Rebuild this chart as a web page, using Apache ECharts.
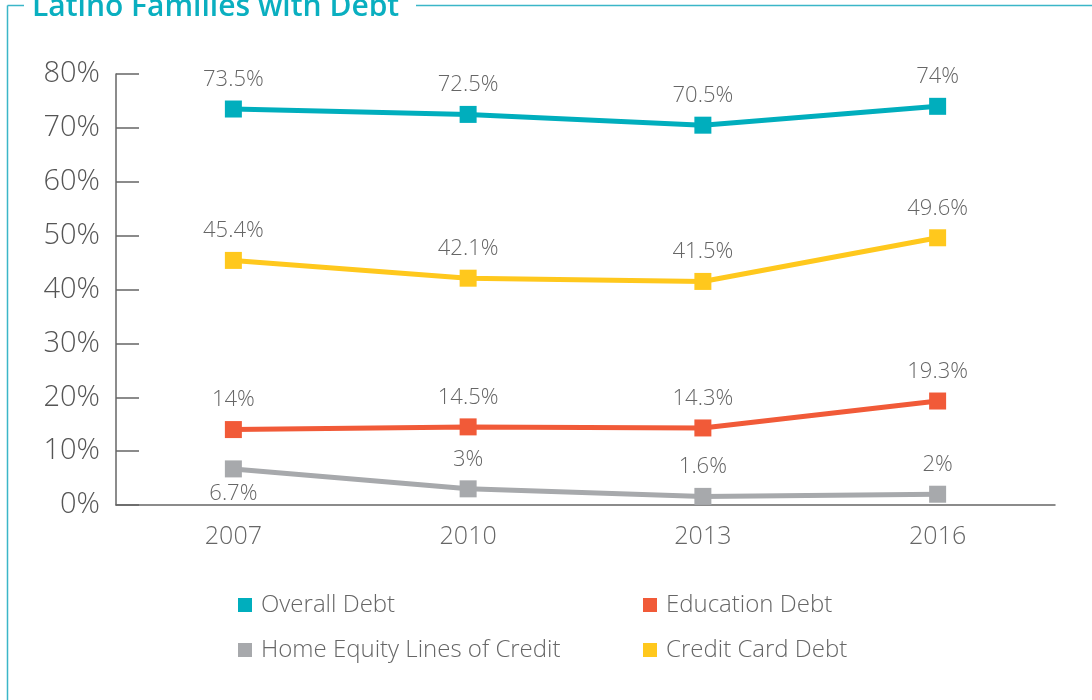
<!DOCTYPE html>
<html>
<head>
<meta charset="utf-8">
<script src="https://cdn.jsdelivr.net/npm/echarts@6/dist/echarts.min.js"></script>
<style>html,body{margin:0;padding:0;background:#fff}#c{width:1092px;height:700px}</style>
</head>
<body>
<div id="c"></div>
<script>
const categories = ['2007', '2010', '2013', '2016'];
const overallDebt = [73.5, 72.5, 70.5, 74];
const creditCardDebt = [45.4, 42.1, 41.5, 49.6];
const educationDebt = [14, 14.5, 14.3, 19.3];
const homeEquity = [6.7, 3, 1.6, 2];
const yTicks = [0, 80, 10];

const FONT = "'Open Sans', sans-serif";
const TXT = '#666';
const chart = echarts.init(document.getElementById('c'));

function mkSeries(name, data, color) {
  return {
    name, type: 'line', data,
    symbol: 'rect', symbolSize: 17,
    lineStyle: { width: 5, color },
    itemStyle: { color },
    label: {
      show: true,
      position: 'top',
      distance: 10,
      formatter: p => p.value + '%',
      fontFamily: FONT, fontWeight: 300, fontSize: 22, color: TXT
    }
  };
}

const hecSeries = mkSeries('Home Equity Lines of Credit', homeEquity, '#A7A9AC');
hecSeries.data = homeEquity.map((v, i) => i === 0 ? { value: v, label: { position: 'bottom', distance: 5 } } : v);

chart.setOption({
  animation: false,
  grid: { left: 116, right: 37, top: 74, bottom: 195 },
  graphic: [
    { type: 'line', shape: { x1: 7.5, y1: 5.5, x2: 7.5, y2: 700 }, style: { stroke: '#3BB6C8', lineWidth: 1.5 } },
    { type: 'line', shape: { x1: 7.5, y1: 5.5, x2: 24, y2: 5.5 }, style: { stroke: '#3BB6C8', lineWidth: 1.5 } },
    { type: 'line', shape: { x1: 416, y1: 5.5, x2: 1092, y2: 5.5 }, style: { stroke: '#3BB6C8', lineWidth: 1.5 } },
    { type: 'text', x: 32, y: 22, style: { text: 'Latino Families with Debt', fill: '#0AAFC0', font: "600 30px 'Open Sans', sans-serif", verticalAlign: 'bottom' } }
  ],
  legend: [
    {
      left: 233, top: 588, orient: 'vertical', itemGap: 21,
      itemWidth: 14, itemHeight: 14, icon: 'rect', itemStyle: { borderWidth: 0 },
      data: ['Overall Debt', 'Home Equity Lines of Credit'],
      textStyle: { fontFamily: FONT, fontWeight: 300, fontSize: 24, color: TXT, padding: [0, 0, 0, 4] }
    },
    {
      left: 638, top: 588, orient: 'vertical', itemGap: 21,
      itemWidth: 14, itemHeight: 14, icon: 'rect', itemStyle: { borderWidth: 0 },
      data: ['Education Debt', 'Credit Card Debt'],
      textStyle: { fontFamily: FONT, fontWeight: 300, fontSize: 24, color: TXT, padding: [0, 0, 0, 4] }
    }
  ],
  xAxis: {
    type: 'category', data: categories, boundaryGap: true,
    axisLine: { lineStyle: { color: '#666', width: 1.5 } },
    axisTick: { inside: true, length: 11, lineStyle: { color: '#666', width: 1.5 } },
    axisLabel: { fontFamily: FONT, fontWeight: 300, fontSize: 25, color: TXT, margin: 19 }
  },
  yAxis: {
    type: 'value', min: yTicks[0], max: yTicks[1], interval: yTicks[2],
    axisLine: { show: true, lineStyle: { color: '#666', width: 1.5 } },
    axisTick: { show: true, inside: true, length: 23, lineStyle: { color: '#666', width: 1.5 } },
    splitLine: { show: false },
    axisLabel: { formatter: '{value}%', fontFamily: FONT, fontWeight: 300, fontSize: 29, color: '#555', margin: 16 }
  },
  series: [
    mkSeries('Overall Debt', overallDebt, '#00AEBD'),
    mkSeries('Education Debt', educationDebt, '#F15A38'),
    hecSeries,
    mkSeries('Credit Card Debt', creditCardDebt, '#FFC81D')
  ]
});
</script>
</body>
</html>
